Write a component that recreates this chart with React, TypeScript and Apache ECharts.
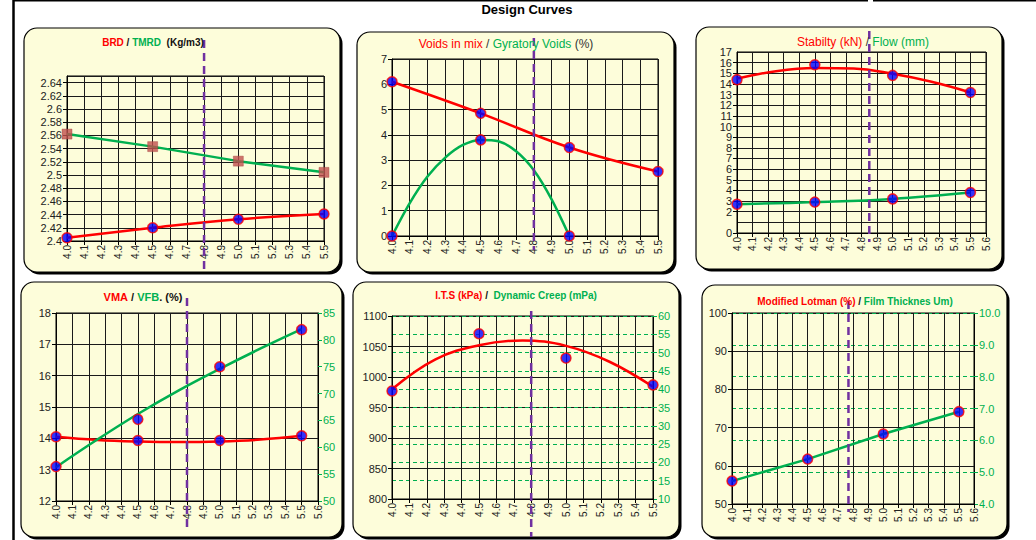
import React, { useEffect, useRef } from 'react';
import * as echarts from 'echarts';

const FONT = 'Liberation Sans, Arial, Helvetica, sans-serif';
const RED = '#FF0000';
const GREEN = '#00B050';
const BLUE = '#0000FF';
const PURPLE = '#7030A0';
const INK = '#222222';

// ---------- data ----------
const binderX = [4.0, 4.5, 5.0, 5.5];
const curveX = [4.0, 4.25, 4.5, 4.75, 5.0, 5.25, 5.5];

// Panel 1: BRD / TMRD
const p1Brd = [2.405, 2.42, 2.433, 2.441];
const p1Tmrd = [2.562, 2.543, 2.521, 2.504];

// Panel 2: Voids in mix / Gyratory voids
const p2VoidsMix = [6.1, 4.85, 3.5, 2.55];
const p2GyrX = [4.0, 4.5, 5.0];
const p2GyrVoids = [0, 3.8, 0];
const p2GyrCurveX = [4.0, 4.1, 4.2, 4.3, 4.4, 4.5, 4.6, 4.7, 4.8, 4.9, 5.0];
const p2GyrCurve = [0, 1.3, 2.35, 3.1, 3.6, 3.8, 3.75, 3.35, 2.6, 1.45, 0];

// Panel 3: Stability / Flow
const p3Stability = [14.4, 15.8, 14.8, 13.2];
const p3StabCurve = [14.5, 15.2, 15.5, 15.45, 14.95, 14.2, 13.2];
const p3Flow = [2.7, 2.9, 3.2, 3.8];

// Panel 4: VMA / VFB
const p4Vma = [14.05, 13.93, 13.93, 14.08];
const p4VmaCurve = [14.05, 13.95, 13.9, 13.88, 13.9, 13.96, 14.08];
const p4Vfb = [56.4, 65.2, 75.0, 81.9];
const p4VfbCurve = [56.3, 61.4, 66.2, 70.6, 74.6, 78.4, 82.0];

// Panel 5: ITS / Dynamic creep
const p5Its = [977, 1071, 1031, 987];
const p5ItsCurve = [980, 1029, 1052, 1060, 1051, 1025, 984];

// Panel 6: Modified Lotman / Film thickness
const p6Film = [4.72, 5.41, 6.2, 6.9];

// design binder content (dashed line) per panel
const designBinder = [4.8, 4.8, 4.85, 4.8, 4.8, 4.77];

// axes
const xMax = [5.5, 5.5, 5.6, 5.6, 5.5, 5.6];
const leftMin = [2.4, 0, 0, 12, 800, 50];
const leftMax = [2.65, 7, 17, 18, 1100, 100];
const leftStep = [0.02, 1, 1, 1, 50, 10];
const rightMin = [50, 10, 4];
const rightMax = [85, 60, 10];
const rightStep = [5, 5, 1];

// ---------- layout ----------
const gridBoxes = [
  { left: 67, top: 76, width: 257, height: 165 },
  { left: 392, top: 59, width: 266, height: 177 },
  { left: 737, top: 52, width: 249, height: 181 },
  { left: 56, top: 313, width: 262, height: 188 },
  { left: 392, top: 316, width: 261, height: 183 },
  { left: 732, top: 313, width: 242, height: 191 },
];
const panelBoxes = [
  [24, 28, 316, 244],
  [357, 32, 317, 240],
  [696, 27, 306, 242],
  [21, 282, 321, 255],
  [353, 282, 326, 255],
  [702, 285, 305, 252],
];
const dashY = [
  [40, 271],
  [38, 250],
  [31, 242],
  [298, 530],
  [311, 537],
  [301, 512],
];

const pairs = (xs: number[], ys: number[]) => xs.map((x, i) => [x, ys[i]]);

const bold = (fill: string, size: number) => ({ fill, fontSize: size, fontWeight: 'bold', fontFamily: FONT });
const norm = (fill: string, size: number) => ({ fill, fontSize: size, fontWeight: 'normal', fontFamily: FONT });

const titles = [
  { cx: 153, cy: 42, text: '{r|BRD}{k| / }{g|TMRD}{k|  (Kg/m3)}', rich: { r: bold(RED, 10), g: bold(GREEN, 10), k: bold('#111', 10) } },
  { cx: 506, cy: 44, text: '{r|Voids in mix}{k| / }{g|Gyratory Voids}{k| (%)}', rich: { r: norm(RED, 12), g: norm(GREEN, 12), k: norm('#333', 12) } },
  { cx: 863, cy: 42, text: '{r|Stabilty (kN)}{k| / }{g|Flow (mm)}', rich: { r: norm(RED, 12), g: norm(GREEN, 12), k: norm('#333', 12) } },
  { cx: 143, cy: 297, text: '{r|VMA}{k| / }{g|VFB}{k|. (%)}', rich: { r: bold(RED, 11), g: bold(GREEN, 11), k: bold('#111', 11) } },
  { cx: 516, cy: 295, text: '{r|I.T.S (kPa)}{k| /  }{g|Dynamic Creep (mPa)}', rich: { r: bold(RED, 10), g: bold(GREEN, 10), k: bold('#111', 10) } },
  { cx: 855, cy: 301, text: '{r|Modified Lotman (%)}{k| / }{g|Film Thicknes Um)}', rich: { r: bold(RED, 10), g: bold(GREEN, 10), k: bold('#111', 10) } },
];

const dotSymbol = {
  symbol: 'circle',
  symbolSize: 10,
  itemStyle: { color: BLUE, borderColor: RED, borderWidth: 1.5 },
};

// panels whose top-of-axis label is drawn separately (too dense for auto layout)
const ownMaxLabel = [false, false, true, false, false, false];

function buildOption() {
  const grid = gridBoxes.map((g) => ({
    ...g,
    show: true,
    borderColor: '#000',
    borderWidth: 1,
    backgroundColor: 'transparent',
    containLabel: false,
  }));

  const xAxis = gridBoxes.map((_, p) => ({
    type: 'value',
    gridIndex: p,
    min: 4,
    max: xMax[p],
    interval: 0.1,
    axisLine: { show: true, lineStyle: { color: '#000', width: 1 } },
    axisTick: { show: true, length: 4, lineStyle: { color: '#000' } },
    axisLabel: {
      rotate: 90,
      fontSize: 10,
      color: INK,
      fontFamily: FONT,
      margin: 4,
      hideOverlap: false,
      showMinLabel: true,
      showMaxLabel: true,
      formatter: (v: number) => v.toFixed(1),
    },
    splitLine: { show: true, lineStyle: { color: '#1a1a1a', width: 1 } },
  }));

  const yAxis: any[] = gridBoxes.map((_, p) => ({
    type: 'value',
    gridIndex: p,
    position: 'left',
    min: leftMin[p],
    max: leftMax[p],
    interval: leftStep[p],
    axisLine: { show: true, lineStyle: { color: '#000', width: 1 } },
    axisTick: { show: true, length: 4, lineStyle: { color: '#000' } },
    axisLabel: {
      fontSize: 11,
      color: INK,
      fontFamily: FONT,
      margin: 5,
      hideOverlap: false,
      showMinLabel: true,
      showMaxLabel: p !== 0 && !ownMaxLabel[p],
      formatter: (v: number) => String(+v.toFixed(2)),
    },
    splitLine: { show: true, lineStyle: { color: '#1a1a1a', width: 1 } },
  }));

  [3, 4, 5].forEach((p, k) => {
    yAxis.push({
      type: 'value',
      gridIndex: p,
      position: 'right',
      min: rightMin[k],
      max: rightMax[k],
      interval: rightStep[k],
      axisLine: { show: true, lineStyle: { color: '#000', width: 1 } },
      axisTick: { show: true, length: 4, lineStyle: { color: GREEN } },
      axisLabel: {
        fontSize: 11,
        color: GREEN,
        fontFamily: FONT,
        margin: 5,
        hideOverlap: false,
        showMinLabel: true,
        showMaxLabel: true,
        formatter: (v: number) => (p === 5 ? v.toFixed(1) : String(v)),
      },
      splitLine: {
        show: p !== 3,
        lineStyle: { color: GREEN, width: 1, type: [4, 3] },
      },
    });
  });

  const lineS = (xi: number, yi: number, data: number[][], color: string, extra: any = {}) => ({
    type: 'line',
    xAxisIndex: xi,
    yAxisIndex: yi,
    data,
    smooth: 0.4,
    showSymbol: false,
    symbol: 'none',
    lineStyle: { color, width: 2.5 },
    z: 3,
    ...extra,
  });
  const dotS = (xi: number, yi: number, data: number[][]) => ({
    type: 'scatter',
    xAxisIndex: xi,
    yAxisIndex: yi,
    data,
    ...dotSymbol,
    z: 5,
  });

  const series: any[] = [
    // panel 1
    lineS(0, 0, pairs(binderX, p1Tmrd), GREEN, { smooth: false }),
    {
      type: 'scatter',
      xAxisIndex: 0,
      yAxisIndex: 0,
      data: pairs(binderX, p1Tmrd),
      symbol: 'rect',
      symbolSize: 10,
      itemStyle: { color: '#C0504D', borderColor: '#A84440', borderWidth: 0.5 },
      z: 5,
    },
    lineS(0, 0, pairs(binderX, p1Brd), RED),
    dotS(0, 0, pairs(binderX, p1Brd)),
    // panel 2
    lineS(1, 1, pairs(binderX, p2VoidsMix), RED),
    lineS(1, 1, pairs(p2GyrCurveX, p2GyrCurve), GREEN, { smooth: 0.3 }),
    dotS(1, 1, pairs(binderX, p2VoidsMix)),
    dotS(1, 1, pairs(p2GyrX, p2GyrVoids)),
    // panel 3
    lineS(2, 2, pairs(curveX, p3StabCurve), RED),
    lineS(2, 2, pairs(binderX, p3Flow), GREEN),
    dotS(2, 2, pairs(binderX, p3Stability)),
    dotS(2, 2, pairs(binderX, p3Flow)),
    // panel 4
    lineS(3, 3, pairs(curveX, p4VmaCurve), RED),
    lineS(3, 6, pairs(curveX, p4VfbCurve), GREEN),
    dotS(3, 3, pairs(binderX, p4Vma)),
    dotS(3, 6, pairs(binderX, p4Vfb)),
    // panel 5
    lineS(4, 4, pairs(curveX, p5ItsCurve), RED),
    dotS(4, 4, pairs(binderX, p5Its)),
    // panel 6
    lineS(5, 8, pairs(binderX, p6Film), GREEN, { smooth: false }),
    dotS(5, 8, pairs(binderX, p6Film)),
  ];

  return { grid, xAxis, yAxis, series };
}

function staticGraphics(): any[] {
  const g: any[] = [];
  panelBoxes.forEach(([x, y, w, h], i) => {
    g.push({
      type: 'rect',
      id: 'shadow' + i,
      shape: { x: x + 2.5, y: y + 2.5, width: w, height: h, r: 13 },
      style: { fill: '#000' },
      z: -20,
      silent: true,
    });
    g.push({
      type: 'rect',
      id: 'panel' + i,
      shape: { x, y, width: w, height: h, r: 13 },
      style: { fill: '#FDFDDA', stroke: '#000', lineWidth: 1.2 },
      z: -19,
      silent: true,
    });
  });
  titles.forEach((t, i) => {
    g.push({
      type: 'text',
      id: 'title' + i,
      x: t.cx,
      y: t.cy,
      style: { text: t.text, rich: t.rich, align: 'center', verticalAlign: 'middle', fontFamily: FONT },
      z: 50,
      silent: true,
    });
  });
  g.push({
    type: 'text',
    id: 'mainTitle',
    x: 527,
    y: 9,
    style: { text: 'Design Curves', fill: '#000', fontSize: 13, fontWeight: 'bold', fontFamily: FONT, align: 'center', verticalAlign: 'middle' },
    z: 50,
  });
  g.push({ type: 'line', id: 'pageLeft', shape: { x1: 13.5, y1: 0, x2: 13.5, y2: 540 }, style: { stroke: '#000', lineWidth: 2.5 }, z: 40 });
  g.push({ type: 'line', id: 'pageTopA', shape: { x1: 13, y1: 0.75, x2: 868, y2: 0.75 }, style: { stroke: '#000', lineWidth: 1.5 }, z: 40 });
  g.push({ type: 'line', id: 'pageTopB', shape: { x1: 873, y1: 0.75, x2: 1036, y2: 0.75 }, style: { stroke: '#000', lineWidth: 1.5 }, z: 40 });
  return g;
}

export default function App() {
  const ref = useRef<HTMLDivElement>(null);
  useEffect(() => {
    if (!ref.current) return;
    const chart = echarts.init(ref.current, undefined, { renderer: 'svg' });
    const base = buildOption();
    const graphics = staticGraphics();
    chart.setOption({ animation: false, ...base, graphic: graphics });
    const dashes: any[] = designBinder.map((v, p) => {
      const px = chart.convertToPixel({ xAxisIndex: p } as any, v) as unknown as number;
      return {
        type: 'line',
        id: 'dash' + p,
        shape: { x1: px, y1: dashY[p][0], x2: px, y2: dashY[p][1] },
        style: { stroke: PURPLE, lineWidth: 2.5, lineDash: [8, 5] },
        z: 30,
        silent: true,
      };
    });
    ownMaxLabel.forEach((own, p) => {
      if (!own) return;
      const pt = chart.convertToPixel({ gridIndex: p } as any, [4, leftMax[p]]) as unknown as number[];
      dashes.push({
        type: 'text',
        id: 'maxLabel' + p,
        x: pt[0] - 5,
        y: pt[1],
        style: {
          text: String(leftMax[p]),
          fill: INK,
          fontSize: 11,
          fontFamily: FONT,
          align: 'right',
          verticalAlign: 'middle',
        },
        z: 50,
        silent: true,
      });
    });
    chart.setOption({ graphic: [...graphics, ...dashes] });
    return () => chart.dispose();
  }, []);
  return (
    <div
      ref={ref}
      style={{ position: 'absolute', left: 0, top: 0, width: 1036, height: 540, background: '#fff' }}
    />
  );
}
